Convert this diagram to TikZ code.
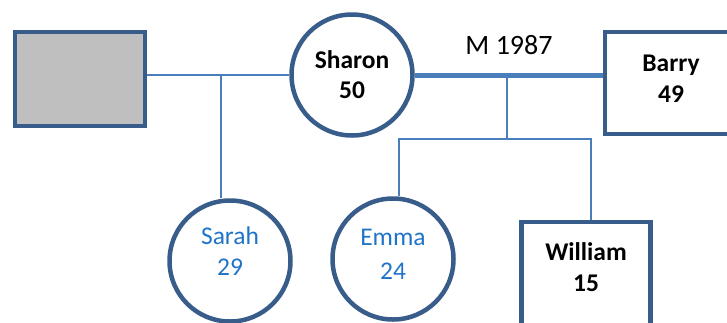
\documentclass[tikz,border=0pt]{standalone}
\usepackage{fontspec}
\setmainfont{Carlito}
\definecolor{shapeedge}{HTML}{385D8A}
\definecolor{linkblue}{HTML}{4A7EBB}
\definecolor{kidblue}{HTML}{1F74C8}
\definecolor{unknowngrey}{HTML}{BFBFBF}
\tikzset{
  woman/.style={circle, draw=shapeedge, line width=4.5pt, minimum size=121pt, inner sep=0pt,
    align=center, font=\bfseries\fontsize{25.5}{30}\selectfont},
  man/.style={rectangle, draw=shapeedge, line width=4.5pt, inner sep=0pt,
    align=center, font=\bfseries\fontsize{25.5}{31}\selectfont},
  daughter/.style={text=kidblue, font=\mdseries\fontsize{25.5}{31}\selectfont},
  kinline/.style={draw=linkblue, line width=1.8pt},
  marriage/.style={draw=linkblue, line width=5pt},
}
\begin{document}
\begin{tikzpicture}[x=1pt, y=-1pt]
        \useasboundingbox (0,0) rectangle (727,322);
        \clip (0,0) rectangle (727,322);
        % parents
        \node[man, fill=unknowngrey, minimum width=130pt, minimum height=94pt] (exhusband) at (80,79) {};
        \node[woman] (sharon) at (352,75) {Sharon\\50};
        \node[man, minimum width=132pt, minimum height=102pt, text depth=8pt] (barry) at (671,83) {Barry\\49};
        % children
        \node[woman, daughter, text depth=20pt] (sarah) at (230,261) {Sarah\\29};
        \node[woman, daughter, text depth=10pt, font=\mdseries\fontsize{25.5}{34}\selectfont] (emma) at (393,259) {Emma\\24};
        \node[man, minimum width=129pt, minimum height=110pt, text depth=20pt] (william) at (586,277) {William\\15};
        % first partnership and its child
        \draw[kinline] (sharon.west) -- (sharon.west -| exhusband.east);
        \coordinate (firstdrop) at (221,75);
        \draw[kinline] (firstdrop) -- (firstdrop |- sarah.north);
        % marriage line with year above
        \draw[marriage] (sharon.east) -- (sharon.east -| barry.west);
        \node[font=\fontsize{28}{30}\selectfont] (wedding) at (509,45) {M 1987};
        % sibling bar
        \coordinate (union) at (507,75);
        \coordinate (sibbar) at (507,139);
        \draw[kinline] (union) -- (sibbar);
        \draw[kinline] (emma.north -| 399,0) |- (sibbar) -| (william.north -| 591,0);
\end{tikzpicture}
\end{document}
